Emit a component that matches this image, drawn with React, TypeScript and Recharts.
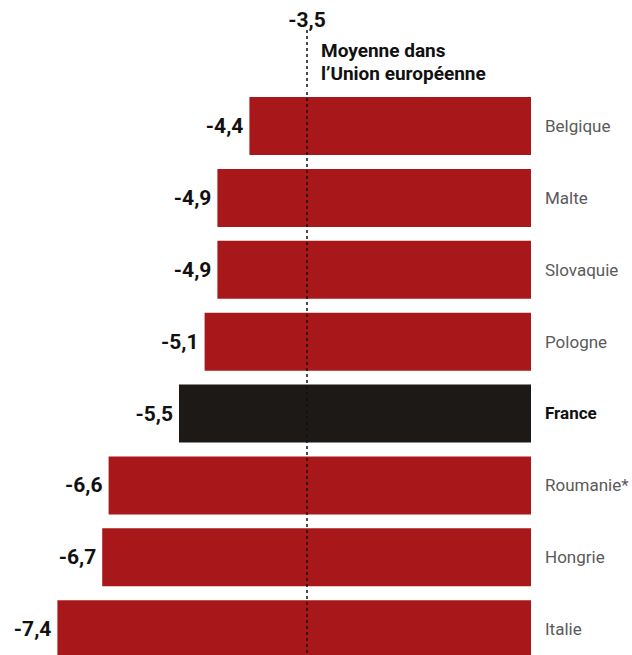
import { BarChart, Bar, XAxis, YAxis, Cell, LabelList, ReferenceLine } from "recharts"

const countries = ["Belgique", "Malte", "Slovaquie", "Pologne", "France", "Roumanie*", "Hongrie", "Italie"]
const values = [-4.4, -4.9, -4.9, -5.1, -5.5, -6.6, -6.7, -7.4]
const highlight = "France"
const euAverage = -3.5
const avgLines = ["Moyenne dans", "l’Union européenne"]

const RED = "#a8181b"
const DARK = "#1c1917"
const FONT = "Roboto, 'Noto Sans', sans-serif"

const fmt = (v: number) => String(v).replace(".", ",")

const data = countries.map((name, i) => ({ name, value: values[i] }))

function CountryTick(props: any) {
  const { x, y, payload } = props
  const isHl = payload.value === highlight
  return (
    <text
      x={x + 6}
      y={y}
      dy={6}
      fontFamily={FONT}
      fontSize={17}
      fontWeight={isHl ? 700 : 400}
      fill={isHl ? "#111" : "#5a5a5a"}
    >
      {payload.value}
    </text>
  )
}

function ValueLabel(props: any) {
  const { x, y, width, height, value } = props
  const left = x + width
  return (
    <text
      x={left - 6}
      y={y + height / 2}
      dy={7}
      textAnchor="end"
      fontFamily={FONT}
      fontSize={21}
      fontWeight={700}
      fill="#111"
    >
      {fmt(value)}
    </text>
  )
}

function AverageLabel(props: any) {
  const { viewBox } = props
  const x = viewBox.x
  return (
    <g>
      <line x1={x} x2={x} y1={30} y2={viewBox.y} stroke="#111" strokeWidth={1.5} strokeDasharray="3 3" />
      <text x={x} y={27} textAnchor="middle" fontFamily={FONT} fontSize={21} fontWeight={700} fill="#111">
        {fmt(euAverage)}
      </text>
      {avgLines.map((t, i) => (
        <text key={t} x={x + 14} y={57 + i * 23} fontFamily={FONT} fontSize={19} fontWeight={700} fill="#111">
          {t}
        </text>
      ))}
    </g>
  )
}

export default function App() {
  return (
    <div style={{ position: "absolute", left: 0, top: 0, width: 632, height: 665, background: "#fff" }}>
      <BarChart
        width={632}
        height={665}
        data={data}
        layout="vertical"
        margin={{ top: 90, right: 0, bottom: 0, left: 19 }}
        barCategoryGap={7}
      >
        <XAxis type="number" domain={[-8, 0]} hide />
        <YAxis
          type="category"
          dataKey="name"
          orientation="right"
          width={101}
          axisLine={false}
          tickLine={false}
          tick={<CountryTick />}
        />
        <Bar dataKey="value" isAnimationActive={false}>
          {data.map((d) => (
            <Cell key={d.name} fill={d.name === highlight ? DARK : RED} />
          ))}
          <LabelList dataKey="value" content={<ValueLabel />} />
        </Bar>
        <ReferenceLine
          x={euAverage}
          stroke="#111"
          strokeWidth={1.5}
          strokeDasharray="3 3"
          label={<AverageLabel />}
        />
      </BarChart>
    </div>
  )
}
